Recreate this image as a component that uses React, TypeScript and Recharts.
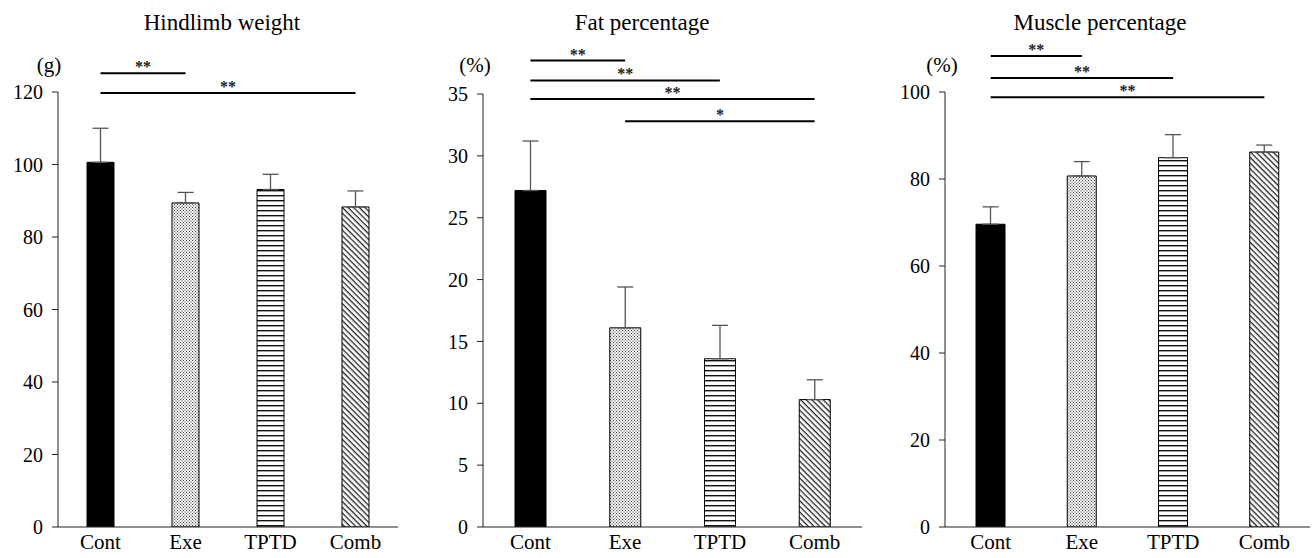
import React from "react";
import { BarChart, Bar, XAxis, YAxis, ErrorBar, ReferenceLine, Cell } from "recharts";

const categories = ["Cont", "Exe", "TPTD", "Comb"];

const hindlimbMean = [100.6, 89.4, 93.1, 88.3];
const hindlimbSd = [9.4, 2.9, 4.2, 4.4];
const hindlimbTicks = [0, 20, 40, 60, 80, 100, 120];
const hindlimbSig: [string, string, number, string][] = [
  ["Cont", "Exe", 125.2, "**"],
  ["Cont", "Comb", 119.7, "**"],
];

const fatMean = [27.2, 16.1, 13.6, 10.3];
const fatSd = [4.0, 3.3, 2.7, 1.6];
const fatTicks = [0, 5, 10, 15, 20, 25, 30, 35];
const fatSig: [string, string, number, string][] = [
  ["Cont", "Exe", 37.7, "**"],
  ["Cont", "TPTD", 36.1, "**"],
  ["Cont", "Comb", 34.6, "**"],
  ["Exe", "Comb", 32.8, "*"],
];

const muscleMean = [69.6, 80.7, 84.9, 86.2];
const muscleSd = [4.0, 3.3, 5.3, 1.6];
const muscleTicks = [0, 20, 40, 60, 80, 100];
const muscleSig: [string, string, number, string][] = [
  ["Cont", "Exe", 108.3, "**"],
  ["Cont", "TPTD", 103.2, "**"],
  ["Cont", "Comb", 98.8, "**"],
];

const FONT = "'Liberation Serif', 'Times New Roman', serif";

type PanelProps = {
  id: string;
  left: number;
  width: number;
  yAxisWidth: number;
  marginRight: number;
  marginTop: number;
  barSize: number;
  means: number[];
  sds: number[];
  ticks: number[];
  sig: [string, string, number, string][];
};

function Panel(p: PanelProps) {
  const data = categories.map((c, i) => ({ name: c, value: p.means[i], err: [0, p.sds[i]] }));
  const fills = ["#000", `url(#dots-${p.id})`, `url(#hl-${p.id})`, `url(#dg-${p.id})`];
  const max = p.ticks[p.ticks.length - 1];
  return (
    <div style={{ position: "absolute", left: p.left, top: 0 }}>
      <BarChart
        width={p.width}
        height={558}
        data={data}
        margin={{ top: p.marginTop, right: p.marginRight, left: 8, bottom: 1 }}
        barSize={p.barSize}
      >
        <defs>
          <pattern id={`dots-${p.id}`} width="3" height="3" patternUnits="userSpaceOnUse">
            <rect width="3" height="3" fill="#fff" />
            <rect x="0" y="0" width="1.1" height="1.1" fill="#444" />
            <rect x="1.5" y="1.5" width="1.1" height="1.1" fill="#444" />
          </pattern>
          <pattern id={`hl-${p.id}`} width="5" height="5" patternUnits="userSpaceOnUse">
            <rect width="5" height="5" fill="#fff" />
            <rect x="0" y="0" width="5" height="1.4" fill="#111" />
          </pattern>
          <pattern
            id={`dg-${p.id}`}
            width="4"
            height="4"
            patternUnits="userSpaceOnUse"
            patternTransform="rotate(45)"
          >
            <rect width="4" height="4" fill="#fff" />
            <rect x="0" y="0" width="4" height="1.3" fill="#222" />
          </pattern>
        </defs>
        <XAxis
          dataKey="name"
          tickLine={false}
          axisLine={{ stroke: "#222" }}
          height={30}
          tickMargin={1}
          tick={{ fontSize: 21, fill: "#000", fontFamily: FONT }}
        />
        <YAxis
          width={p.yAxisWidth}
          domain={[0, max]}
          ticks={p.ticks}
          allowDataOverflow
          axisLine={{ stroke: "#222" }}
          tickLine={{ stroke: "#222" }}
          tickMargin={9}
          tick={{ fontSize: 20, fill: "#000", fontFamily: FONT }}
        />
        <Bar dataKey="value" stroke="#000" strokeWidth={1} isAnimationActive={false}>
          {data.map((_, i) => (
            <Cell key={i} fill={fills[i]} />
          ))}
          <ErrorBar dataKey="err" width={8} stroke="#555" strokeWidth={1.3} direction="y" />
        </Bar>
        {p.sig.map(([a, b, y, mark], i) => (
          <ReferenceLine
            key={i}
            segment={[
              { x: a, y },
              { x: b, y },
            ]}
            ifOverflow="visible"
            stroke="#000"
            strokeWidth={2}
            label={{
              value: mark,
              position: "top",
              offset: 1,
              fontSize: 16,
              fontWeight: "bold",
              fill: "#222",
              fontFamily: FONT,
            }}
          />
        ))}
      </BarChart>
    </div>
  );
}

const textStyle = (x: number, y: number, size: number): React.CSSProperties => ({
  position: "absolute",
  left: x,
  top: y,
  transform: "translate(-50%, -50%)",
  fontFamily: FONT,
  fontSize: size,
  lineHeight: 1,
  whiteSpace: "nowrap",
  color: "#000",
});

export default function App() {
  return (
    <div style={{ position: "relative", width: 1313, height: 558, background: "#fff", overflow: "hidden" }}>
      <style>{"body{margin:0}"}</style>
      <Panel
        id="a"
        left={0}
        width={420}
        yAxisWidth={50}
        marginRight={22}
        marginTop={92}
        barSize={27}
        means={hindlimbMean}
        sds={hindlimbSd}
        ticks={hindlimbTicks}
        sig={hindlimbSig}
      />
      <Panel
        id="b"
        left={430}
        width={440}
        yAxisWidth={45}
        marginRight={8}
        marginTop={94}
        barSize={31}
        means={fatMean}
        sds={fatSd}
        ticks={fatTicks}
        sig={fatSig}
      />
      <Panel
        id="c"
        left={890}
        width={423}
        yAxisWidth={47}
        marginRight={3}
        marginTop={92}
        barSize={29}
        means={muscleMean}
        sds={muscleSd}
        ticks={muscleTicks}
        sig={muscleSig}
      />
      <div style={textStyle(222, 22, 23)}>Hindlimb weight</div>
      <div style={textStyle(642, 22, 23)}>Fat percentage</div>
      <div style={textStyle(1100, 22, 23)}>Muscle percentage</div>
      <div style={textStyle(49, 65, 21)}>(g)</div>
      <div style={textStyle(475, 65, 21)}>(%)</div>
      <div style={textStyle(942, 65, 21)}>(%)</div>
    </div>
  );
}
